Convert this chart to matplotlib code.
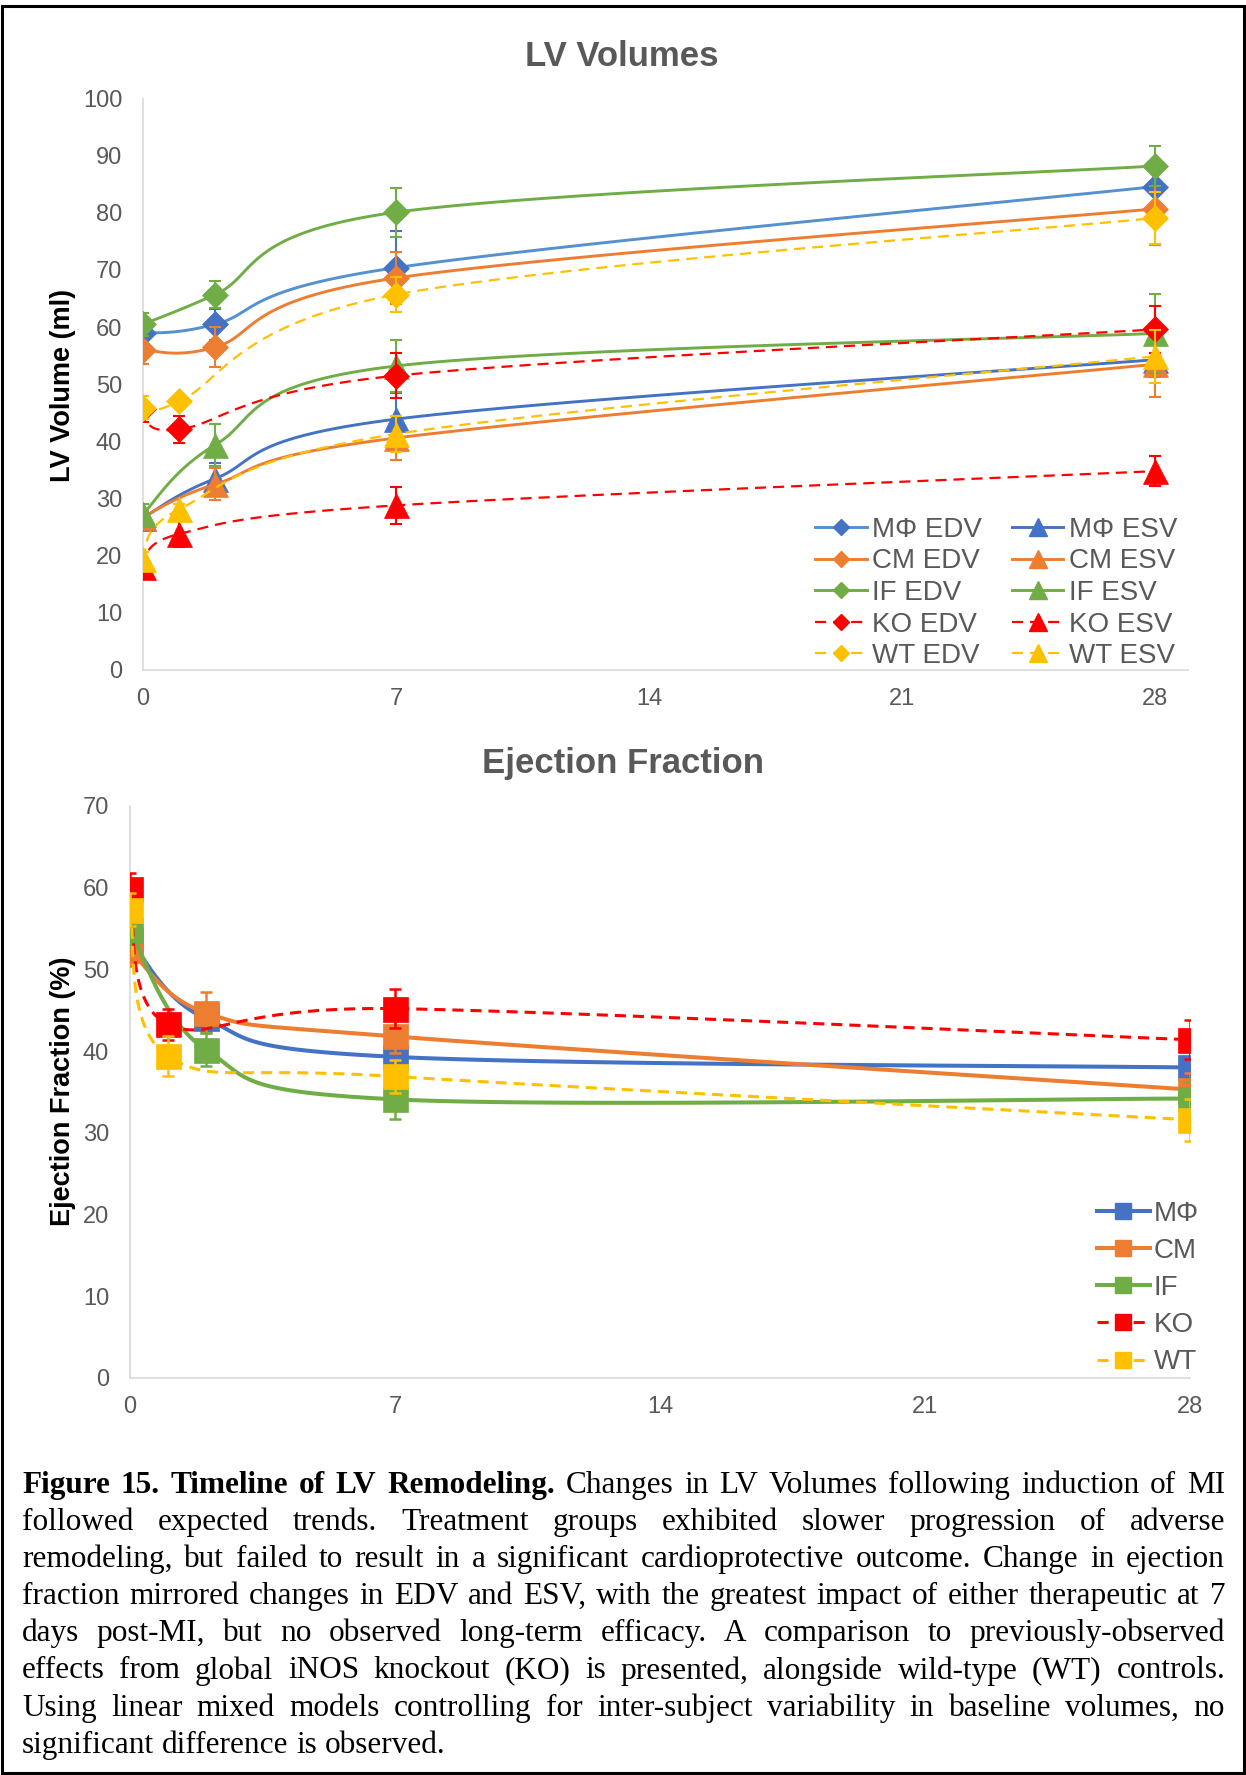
"""LV remodeling timeline: LV volumes (EDV/ESV) and ejection fraction after MI."""
import numpy as np
import matplotlib
matplotlib.use('Agg')
import matplotlib.pyplot as plt
from matplotlib.lines import Line2D
from matplotlib.patches import Rectangle

plt.rcParams['font.family'] = ['Liberation Sans', 'DejaVu Sans']
plt.rcParams['lines.scale_dashes'] = False

W, H = 1246, 1775

# days post-MI
days_tx = [0, 2, 7, 28]    # MΦ / CM / IF
days_ref = [0, 1, 7, 28]   # KO / WT
xticks = [0, 7, 14, 21, 28]

# LV volumes (ml): mean, SEM
mf_edv, mf_edv_se = [58.9, 60.5, 70.4, 84.6], [2.5, 2.7, 6.4, 4.0]
mf_esv, mf_esv_se = [26.6, 33.5, 43.9, 54.3], [1.0, 2.8, 4.5, 3.0]
cm_edv, cm_edv_se = [56.0, 56.5, 68.6, 80.7], [2.5, 3.5, 4.6, 6.4]
cm_esv, cm_esv_se = [26.8, 32.5, 40.6, 53.5], [1.0, 2.8, 3.9, 5.7]
if_edv, if_edv_se = [60.5, 65.7, 80.1, 88.2], [2.0, 2.4, 4.3, 3.5]
if_esv, if_esv_se = [27.3, 39.4, 53.2, 58.9], [1.8, 3.7, 4.6, 6.9]
ko_edv, ko_edv_se = [45.7, 42.1, 51.5, 59.6], [2.3, 2.4, 3.9, 4.1]
ko_esv, ko_esv_se = [18.0, 23.8, 28.8, 34.8], [1.0, 2.3, 3.3, 2.6]
wt_edv, wt_edv_se = [45.9, 47.0, 65.7, 79.1], [2.0, 1.0, 3.0, 4.6]
wt_esv, wt_esv_se = [19.4, 28.1, 41.3, 54.9], [1.2, 1.0, 3.2, 4.6]

# ejection fraction (%): mean, SEM
mf_ef, mf_ef_se = [53.6, 44.0, 39.3, 38.0], [2.0, 1.5, 2.0, 2.0]
cm_ef, cm_ef_se = [52.4, 44.7, 41.8, 35.3], [2.0, 2.5, 2.0, 2.0]
if_ef, if_ef_se = [54.8, 40.2, 34.1, 34.2], [2.0, 2.0, 2.4, 2.0]
ko_ef, ko_ef_se = [59.8, 43.3, 45.2, 41.4], [2.0, 1.9, 2.4, 2.4]
wt_ef, wt_ef_se = [57.3, 39.4, 36.9, 31.6], [2.0, 2.5, 2.0, 2.6]

BLUE, BLUE_L = '#4472C4', '#5590CF'
ORANGE, GREEN, RED, YELLOW = '#ED7D31', '#70AD47', '#FF0000', '#FFC000'
GREY_TXT, GREY_AX = '#595959', '#D9D9D9'
DASH = (0, (8, 5))


def smooth(ax, x, y, n=40):
    # excel-style smoothed line: bezier through points, done in pixel space
    pts = ax.transData.transform(np.column_stack([x, y]))
    P = np.vstack([pts[0], pts, pts[-1]])
    t = np.linspace(0, 1, n)[:, None]
    out = []
    for i in range(1, len(P) - 2):
        p0, p1, p2, p3 = P[i - 1], P[i], P[i + 1], P[i + 2]
        c1 = p1 + (p2 - p0) / 6
        c2 = p2 - (p3 - p1) / 6
        seg = (1 - t) ** 3 * p1 + 3 * (1 - t) ** 2 * t * c1 + 3 * (1 - t) * t ** 2 * c2 + t ** 3 * p2
        out.append(seg if i == 1 else seg[1:])
    xy = ax.transData.inverted().transform(np.vstack(out))
    return xy[:, 0], xy[:, 1]


def series(ax, x, y, se, col, lcol, mk, ms, lw, dashed, z, ew=1.5, leg_ms=8):
    ls = DASH if dashed else '-'
    ax.errorbar(x, y, yerr=se, fmt='none', ecolor=col, elinewidth=ew, capsize=4,
                capthick=ew, zorder=z)
    sx, sy = smooth(ax, x, y)
    ax.plot(sx, sy, color=lcol, lw=lw, ls=ls, zorder=z + 0.1)
    ax.plot(x, y, ls='none', marker=mk, ms=ms, color=col, mec=col, mew=0.5, zorder=z + 0.2)
    return Line2D([], [], color=lcol, lw=lw, ls=ls, marker=mk, ms=leg_ms, mfc=col, mec=col)


def style_axes(ax, ymax, ystep):
    ax.set_ylim(0, ymax)
    ax.set_yticks(np.arange(0, ymax + 1, ystep))
    ax.set_xticks(xticks)
    for s in ['top', 'right']:
        ax.spines[s].set_visible(False)
    for s in ['left', 'bottom']:
        ax.spines[s].set_color(GREY_AX)
        ax.spines[s].set_linewidth(1.2)
    ax.tick_params(length=0, labelsize=17, labelcolor=GREY_TXT)
    ax.tick_params(axis='y', pad=15)
    ax.tick_params(axis='x', pad=13)


fig = plt.figure(figsize=(W / 100, H / 100), dpi=100)

# ---- LV volumes ----
ax1 = fig.add_axes([143 / W, 1 - 670 / H, (1188 - 143) / W, (670 - 98.5) / H])
ax1.set_xlim(0, 28.9)
style_axes(ax1, 100, 10)

vol = [
    ('MΦ EDV', days_tx, mf_edv, mf_edv_se, BLUE, BLUE_L, 'D', False),
    ('MΦ ESV', days_tx, mf_esv, mf_esv_se, BLUE, BLUE, '^', False),
    ('CM EDV', days_tx, cm_edv, cm_edv_se, ORANGE, ORANGE, 'D', False),
    ('CM ESV', days_tx, cm_esv, cm_esv_se, ORANGE, ORANGE, '^', False),
    ('IF EDV', days_tx, if_edv, if_edv_se, GREEN, GREEN, 'D', False),
    ('IF ESV', days_tx, if_esv, if_esv_se, GREEN, GREEN, '^', False),
    ('KO EDV', days_ref, ko_edv, ko_edv_se, RED, RED, 'D', True),
    ('KO ESV', days_ref, ko_esv, ko_esv_se, RED, RED, '^', True),
    ('WT EDV', days_ref, wt_edv, wt_edv_se, YELLOW, YELLOW, 'D', True),
    ('WT ESV', days_ref, wt_esv, wt_esv_se, YELLOW, YELLOW, '^', True),
]
h1 = {}
for k, (lab, x, y, se, c, lc, mk, dsh) in enumerate(vol):
    ms = 13 if mk == 'D' else 18
    lms = 8 if mk == 'D' else 12.5
    h1[lab] = series(ax1, x, y, se, c, lc, mk, ms, 1.6 if dsh else 2.1, dsh, 3 + k,
                     leg_ms=lms)

order = ['MΦ EDV', 'CM EDV', 'IF EDV', 'KO EDV', 'WT EDV',
         'MΦ ESV', 'CM ESV', 'IF ESV', 'KO ESV', 'WT ESV']
fig.legend([h1[o] for o in order], order, ncol=2, loc='center left',
           bbox_to_anchor=(815 / W, 1 - 593 / H), frameon=False, fontsize=20,
           labelcolor=GREY_TXT, handlelength=1.87, handletextpad=0.2,
           columnspacing=1.05, labelspacing=0.2, borderpad=0, borderaxespad=0)

# ---- ejection fraction ----
ax2 = fig.add_axes([130 / W, 1 - 1378 / H, (1190 - 130) / W, (1378 - 806) / H])
ax2.set_xlim(0, 28)
style_axes(ax2, 70, 10)

ef = [
    ('MΦ', days_tx, mf_ef, mf_ef_se, BLUE, False),
    ('CM', days_tx, cm_ef, cm_ef_se, ORANGE, False),
    ('IF', days_tx, if_ef, if_ef_se, GREEN, False),
    ('KO', days_ref, ko_ef, ko_ef_se, RED, True),
    ('WT', days_ref, wt_ef, wt_ef_se, YELLOW, True),
]
h2 = []
for k, (lab, x, y, se, c, dsh) in enumerate(ef):
    h2.append(series(ax2, x, y, se, c, c, 's', 18, 2.2 if dsh else 2.9, dsh, 3 + k,
                     ew=1.8, leg_ms=12))
fig.legend(h2, [e[0] for e in ef], loc='center left',
           bbox_to_anchor=(1097 / W, 1 - 1288 / H), frameon=False, fontsize=20,
           labelcolor=GREY_TXT, handlelength=1.9, handletextpad=0.15,
           labelspacing=0.4, borderpad=0, borderaxespad=0)

# titles and axis labels
fig.text(622 / W, 1 - 57 / H, 'LV Volumes', ha='center', va='center', fontsize=25,
         fontweight='bold', color=GREY_TXT)
fig.text(623 / W, 1 - 764 / H, 'Ejection Fraction', ha='center', va='center', fontsize=25,
         fontweight='bold', color=GREY_TXT)
fig.text(63 / W, 1 - 385 / H, 'LV Volume (ml)', rotation=90, ha='center', va='center',
         fontsize=19.5, fontweight='bold', color='black')
fig.text(63 / W, 1 - 1091 / H, 'Ejection Fraction (%)', rotation=90, ha='center',
         va='center', fontsize=19.5, fontweight='bold', color='black')

# ---- caption, justified ----
cap_lines = [
    "Figure 15. Timeline of LV Remodeling. Changes in LV Volumes following induction of MI",
    "followed expected trends. Treatment groups exhibited slower progression of adverse",
    "remodeling, but failed to result in a significant cardioprotective outcome. Change in ejection",
    "fraction mirrored changes in EDV and ESV, with the greatest impact of either therapeutic at 7",
    "days post-MI, but no observed long-term efficacy. A comparison to previously-observed",
    "effects from global iNOS knockout (KO) is presented, alongside wild-type (WT) controls.",
    "Using linear mixed models controlling for inter-subject variability in baseline volumes, no",
    "significant difference is observed.",
]
n_bold = 6   # "Figure 15. Timeline of LV Remodeling."
CAP_FS = 22.5
X0, X1 = 22, 1225
BASE0, LEAD = 1493, 37.1

fig.canvas.draw()
rend = fig.canvas.get_renderer()


def word_w(s, weight):
    t = fig.text(0, 0, s, fontsize=CAP_FS, family='Liberation Serif', fontweight=weight)
    w = t.get_window_extent(rend).width
    t.remove()
    return w


space_w = word_w('a a', 'normal') - 2 * word_w('a', 'normal')
for i, line in enumerate(cap_lines):
    words = line.split(' ')
    weights = ['bold' if (i == 0 and j < n_bold) else 'normal' for j in range(len(words))]
    widths = [word_w(w, wt) for w, wt in zip(words, weights)]
    if i < len(cap_lines) - 1:
        gap = (X1 - X0 - sum(widths)) / (len(words) - 1)
    else:
        gap = space_w
    x = X0
    yb = 1 - (BASE0 + i * LEAD) / H
    for w, wt, ww in zip(words, weights, widths):
        fig.text(x / W, yb, w, fontsize=CAP_FS, family='Liberation Serif', fontweight=wt,
                 va='baseline', ha='left', color='black')
        x += ww + gap

# page frame
fig.add_artist(Rectangle((1.5 / W, 1 - 1773 / H), (1243.5 - 1.5) / W, (1773 - 6) / H,
                         transform=fig.transFigure, fill=False, lw=2.2, ec='black'))

fig.savefig('out.png', dpi=100)
